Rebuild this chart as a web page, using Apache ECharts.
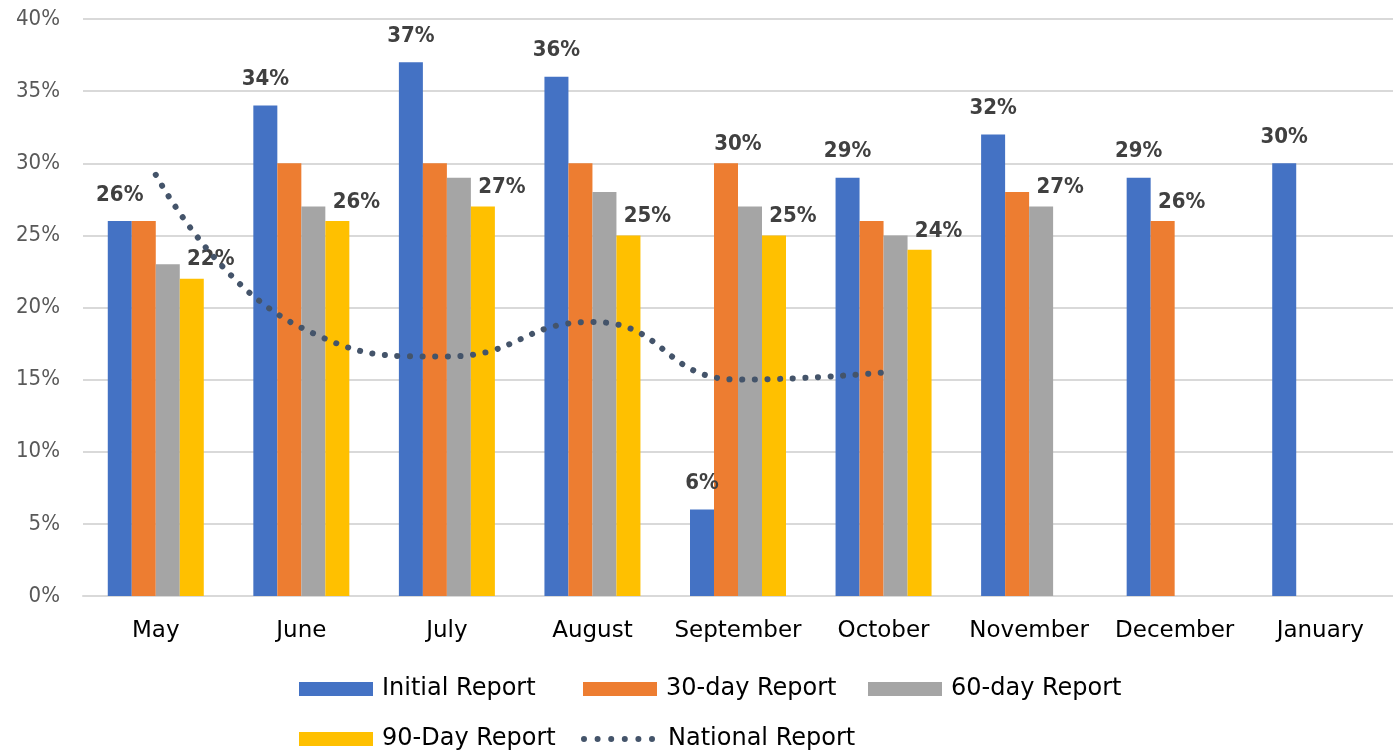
<!DOCTYPE html>
<html>
<head>
<meta charset="utf-8">
<script src="https://cdn.jsdelivr.net/npm/echarts@6/dist/echarts.min.js"></script>
<style>
  html, body { margin: 0; padding: 0; background: #fff; }
  #chart { width: 1393px; height: 752px; }
</style>
</head>
<body>
<div id="chart"></div>
<script>
const months = ['May', 'June', 'July', 'August', 'September', 'October', 'November', 'December', 'January']
const initialReport = [26, 34, 37, 36, 6, 29, 32, 29, 30]
const day30Report = [26, 30, 30, 30, 30, 26, 28, 26, null]
const day60Report = [23, 27, 29, 28, 27, 25, 27, null, null]
const day90Report = [22, 26, 27, 25, 25, 24, null, null, null]
const nationalReport = [29.2, 18.6, 16.6, 19.0, 15.0, 15.5, null, null, null]
const yTicks = [0, 5, 10, 15, 20, 25, 30, 35, 40]

// which months carry a value label on the 30-day and 60-day bars
const day30Labelled = ['September', 'December']
const day60Labelled = ['November']

const CONDENSED = '"DejaVu Sans Condensed", "DejaVu Sans", sans-serif'
const WIDE = '"DejaVu Sans", sans-serif'

// six dots in a 74x14 box, for the dotted legend swatch
let dots = 'path://M0,0L0.01,0ZM74,14L74,13.99Z'
for (let k = 0; k < 6; k++) {
  const cx = 3 + k * 13.6
  dots += 'M' + (cx - 3) + ',7a3,3 0 1,0 6,0a3,3 0 1,0 -6,0Z'
}

const topLabel = {
  show: true,
  position: 'top',
  formatter: '{c}%',
  color: '#404040',
  fontFamily: CONDENSED,
  fontWeight: 'bold',
  fontSize: 22
}
const rightLabel = Object.assign({}, topLabel, { distance: 8, offset: [19, 0] })

function pick(values, labelled, label) {
  return values.map(function(v, i) {
    if (labelled.indexOf(months[i]) >= 0) {
      return { value: v, label: label }
    }
    return v
  })
}

const legendText = { fontSize: 24, color: '#000', fontFamily: WIDE, padding: [0, 0, 0, 4] }

// excel lays the legend out in columns, so each entry gets its own slot
function legendItem(name, left, top, extra) {
  return {
    left: left,
    top: top,
    padding: 0,
    itemWidth: 74,
    itemHeight: 14,
    icon: 'rect',
    textStyle: legendText,
    data: [Object.assign({ name: name }, extra || {})]
  }
}

const chart = echarts.init(document.getElementById('chart'))
chart.setOption({
  backgroundColor: '#fff',
  animation: false,
  grid: {
    left: 83,
    right: -9,
    top: 19,
    bottom: 156
  },
  legend: [
    legendItem('Initial Report', 299, 677),
    legendItem('30-day Report', 583, 677),
    legendItem('60-day Report', 868, 677),
    legendItem('90-Day Report', 299, 727),
    legendItem('National Report', 581, 727, {
      icon: dots,
      itemStyle: { color: '#44546A' },
      textStyle: Object.assign({}, legendText, { padding: [0, 0, 0, 8] })
    })
  ],
  xAxis: {
    type: 'category',
    data: months,
    axisLine: { lineStyle: { color: '#d9d9d9', width: 2 } },
    axisTick: { show: false },
    axisLabel: { interval: 0, color: '#000', fontSize: 23, margin: 24, fontFamily: WIDE }
  },
  yAxis: {
    type: 'value',
    min: yTicks[0],
    max: yTicks[yTicks.length - 1],
    interval: yTicks[1] - yTicks[0],
    axisLine: { show: false },
    axisTick: { show: false },
    splitLine: { lineStyle: { color: '#d9d9d9', width: 2 } },
    axisLabel: { formatter: '{value}%', color: '#595959', fontSize: 22, margin: 23, fontFamily: CONDENSED }
  },
  series: [{
    name: 'Initial Report',
    type: 'bar',
    barWidth: 24,
    barGap: 0,
    itemStyle: { color: '#4472C4' },
    label: Object.assign({}, topLabel, { distance: 15 }),
    data: initialReport
  }, {
    name: '30-day Report',
    type: 'bar',
    barWidth: 24,
    barGap: 0,
    itemStyle: { color: '#ED7D31' },
    data: pick(day30Report, day30Labelled, Object.assign({}, rightLabel, { offset: [12, 0] })).map(function(d, i) {
      // December label sits further to the right
      return months[i] === 'December' ? { value: d.value, label: rightLabel } : d
    })
  }, {
    name: '60-day Report',
    type: 'bar',
    barWidth: 24,
    barGap: 0,
    itemStyle: { color: '#A5A5A5' },
    data: pick(day60Report, day60Labelled, rightLabel)
  }, {
    name: '90-Day Report',
    type: 'bar',
    barWidth: 24,
    barGap: 0,
    itemStyle: { color: '#FFC000' },
    label: rightLabel,
    data: day90Report
  }, {
    name: 'National Report',
    type: 'line',
    smooth: 0.5,
    symbol: 'none',
    itemStyle: { color: '#44546A' },
    lineStyle: { color: '#44546A', width: 6, type: [0.1, 12.5], cap: 'round' },
    data: nationalReport
  }]
})
</script>
</body>
</html>
